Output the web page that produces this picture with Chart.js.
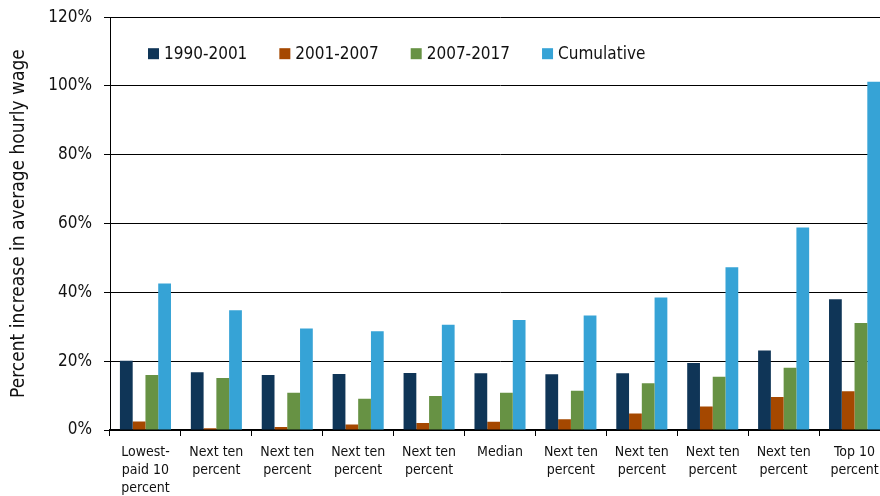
<!DOCTYPE html>
<html>
<head>
<meta charset="utf-8">
<script src="https://cdn.jsdelivr.net/npm/chart.js@4.4.1/dist/chart.umd.min.js"></script>
<style>
  html, body { margin: 0; padding: 0; background: #fff; overflow: hidden; }
  #wrap { width: 890px; height: 501px; margin-top: -5px; }
</style>
</head>
<body>
<div id="wrap"><canvas id="wageChart"></canvas></div>
<script>
// Aumento porcentual del salario por hora, por decil
const groups = [
  ['Lowest-', 'paid 10', 'percent'],
  ['Next ten', 'percent'],
  ['Next ten', 'percent'],
  ['Next ten', 'percent'],
  ['Next ten', 'percent'],
  ['Median'],
  ['Next ten', 'percent'],
  ['Next ten', 'percent'],
  ['Next ten', 'percent'],
  ['Next ten', 'percent'],
  ['Top 10', 'percent'],
];
const period1990 = [20.1, 16.8, 16.0, 16.3, 16.6, 16.5, 16.2, 16.5, 19.5, 23.1, 38.0];
const period2001 = [2.5, 0.5, 0.9, 1.6, 2.0, 2.4, 3.1, 4.8, 6.8, 9.6, 11.3];
const period2007 = [16.0, 15.1, 10.8, 9.1, 9.9, 10.8, 11.4, 13.6, 15.5, 18.1, 31.1];
const cumulative = [42.6, 34.8, 29.5, 28.7, 30.6, 32.0, 33.3, 38.5, 47.3, 58.9, 101.2];
const seriesNames = ['1990-2001', '2001-2007', '2007-2017', 'Cumulative'];
const yTicks = [0, 20, 40, 60, 80, 100, 120];

const FONT = "'DejaVu Sans Condensed', 'Liberation Sans Narrow', sans-serif";
const colors = ['#0F3557', '#A54800', '#679244', '#36A3D6'];

// leyenda dentro del area del grafico
const insideLegend = {
  id: 'insideLegend',
  afterDraw(chart) {
    const c = chart.ctx;
    const area = chart.chartArea;
    const y = area.top + 36;
    let x = area.left + 38;
    c.save();
    c.font = '17px ' + FONT;
    c.textBaseline = 'middle';
    chart.data.datasets.forEach(ds => {
      c.fillStyle = ds.backgroundColor;
      c.fillRect(x, y - 5, 11, 11);
      c.fillStyle = '#111';
      c.fillText(ds.label, x + 16, y + 1);
      x += 16 + c.measureText(ds.label).width + 32;
    });
    c.restore();
  },
};

new Chart(document.getElementById('wageChart'), {
  type: 'bar',
  data: {
    labels: groups,
    datasets: [
      { label: seriesNames[0], data: period1990, backgroundColor: colors[0] },
      { label: seriesNames[1], data: period2001, backgroundColor: colors[1] },
      { label: seriesNames[2], data: period2007, backgroundColor: colors[2] },
      { label: seriesNames[3], data: cumulative, backgroundColor: colors[3] },
    ],
  },
  options: {
    responsive: true,
    maintainAspectRatio: false,
    animation: false,
    layout: { padding: { top: 10, right: 0, left: 0, bottom: 0 } },
    datasets: { bar: { categoryPercentage: 0.72, barPercentage: 1.0 } },
    plugins: {
      legend: { display: false },
      tooltip: { enabled: false },
    },
    scales: {
      x: {
        grid: { display: true, drawOnChartArea: false, drawTicks: true, tickLength: 6, offset: true, color: '#000' },
        border: { color: '#000', width: 2 },
        ticks: {
          color: '#111',
          font: { family: FONT, size: 14, lineHeight: 1.3 },
          maxRotation: 0,
          autoSkip: false,
          padding: 7,
        },
        afterFit: s => { s.height = 66; },
      },
      y: {
        min: 0,
        max: 120,
        afterBuildTicks: s => { s.ticks = yTicks.map(v => ({ value: v })); },
        grid: { color: '#000', lineWidth: 1, tickLength: 6 },
        border: { color: '#000', width: 1 },
        ticks: {
          color: '#111',
          font: { family: FONT, size: 17 },
          padding: 12,
          callback: v => v + '%',
        },
        title: {
          display: true,
          text: 'Percent increase in average hourly wage',
          color: '#111',
          font: { family: FONT, size: 19 },
          padding: { top: 8, bottom: 0 },
        },
        afterFit: s => { s.width = 110; },
      },
    },
  },
  plugins: [insideLegend],
});
</script>
</body>
</html>
